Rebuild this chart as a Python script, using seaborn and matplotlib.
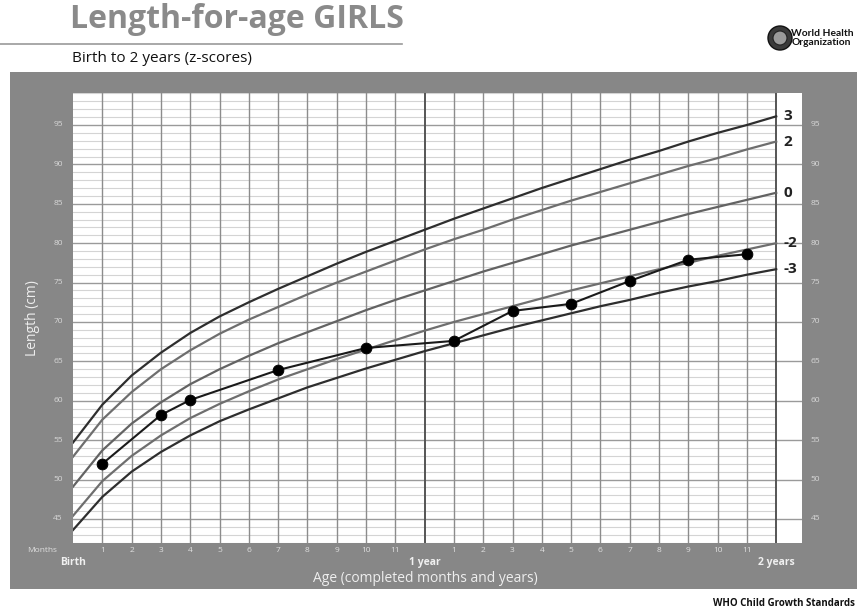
import matplotlib
matplotlib.use("Agg")
import matplotlib.pyplot as plt
import seaborn as sns
import pandas as pd
from matplotlib.patches import Rectangle, Ellipse
from matplotlib.lines import Line2D

# ---- data ----
months = list(range(0, 25))
sd_neg3 = [43.6, 47.8, 51.0, 53.5, 55.6, 57.4, 58.9, 60.3, 61.7, 62.9, 64.1, 65.2, 66.3,
           67.3, 68.3, 69.3, 70.2, 71.1, 72.0, 72.8, 73.7, 74.5, 75.2, 76.0, 76.7]
sd_neg2 = [45.4, 49.8, 53.0, 55.6, 57.8, 59.6, 61.2, 62.7, 64.0, 65.3, 66.5, 67.7, 68.9,
           70.0, 71.0, 72.0, 73.0, 74.0, 74.9, 75.8, 76.7, 77.5, 78.4, 79.2, 80.0]
sd_0 = [49.1, 53.7, 57.1, 59.8, 62.1, 64.0, 65.7, 67.3, 68.7, 70.1, 71.5, 72.8, 74.0,
        75.2, 76.4, 77.5, 78.6, 79.7, 80.7, 81.7, 82.7, 83.7, 84.6, 85.5, 86.4]
sd_pos2 = [52.9, 57.6, 61.1, 64.0, 66.4, 68.5, 70.3, 71.9, 73.5, 75.0, 76.4, 77.8, 79.2,
           80.5, 81.7, 83.0, 84.2, 85.4, 86.5, 87.6, 88.7, 89.8, 90.8, 91.9, 92.9]
sd_pos3 = [54.7, 59.5, 63.2, 66.1, 68.6, 70.7, 72.5, 74.2, 75.8, 77.4, 78.9, 80.3, 81.7,
           83.1, 84.4, 85.7, 87.0, 88.2, 89.4, 90.6, 91.7, 92.9, 94.0, 95.0, 96.1]
z_labels = ["3", "2", "0", "-2", "-3"]

child_age = [1, 3, 4, 7, 10, 13, 15, 17, 19, 21, 23]
child_len = [52.0, 58.2, 60.1, 63.9, 66.7, 67.6, 71.4, 72.3, 75.2, 77.9, 78.6]

month_ticks = [1, 2, 3, 4, 5, 6, 7, 8, 9, 10, 11, 13, 14, 15, 16, 17, 18, 19, 20, 21, 22, 23]
month_tick_labels = ["1", "2", "3", "4", "5", "6", "7", "8", "9", "10", "11",
                     "1", "2", "3", "4", "5", "6", "7", "8", "9", "10", "11"]
y_ticks = [45, 50, 55, 60, 65, 70, 75, 80, 85, 90, 95]

# ---- build tables ----
series = dict(zip(z_labels, [sd_pos3, sd_pos2, sd_0, sd_neg2, sd_neg3]))
rows = []
for z, vals in series.items():
    for m, v in zip(months, vals):
        rows.append({"month": m, "length": v, "z": z})
curves = pd.DataFrame(rows)
child = pd.DataFrame({"month": child_age, "length": child_len})

W, H = 857, 612
fig = plt.figure(figsize=(W / 100, H / 100), dpi=100)
fig.patch.set_facecolor("white")

FONT = ["Open Sans", "DejaVu Sans"]
LOGO_FONT = ["Lato", "DejaVu Sans"]
GREY_BG = "#878787"

# grey frame
fig.add_artist(Rectangle((10 / W, 1 - 589 / H), 1 - 10 / W, (589 - 72) / H,
                         transform=fig.transFigure, facecolor=GREY_BG, edgecolor="none", zorder=0))

ax = fig.add_axes([73 / W, 1 - 543 / H, (802 - 73) / W, (543 - 93) / H])
ax.set_facecolor("white")
xmax, ymin, ymax = 24.88, 41.95, 99.06
ax.set_xlim(0, xmax)
ax.set_ylim(ymin, ymax)

# grid
for y in range(42, 100):
    if y % 5 == 0:
        ax.plot([0, xmax], [y, y], color="#9a9a9a", lw=1.0, zorder=1)
    else:
        ax.plot([0, 24], [y, y], color="#d4d4d4", lw=0.8, zorder=1)
for m in range(1, 24):
    if m == 12:
        continue
    ax.axvline(m, color="#8c8c8c", lw=1.0, zorder=1.5)
ax.axvline(12, color="#555555", lw=1.4, zorder=1.5)
ax.axvline(24, color="#555555", lw=1.4, zorder=1.5)

palette = {"3": "#2e2e2e", "2": "#6e6e6e", "0": "#636363", "-2": "#6e6e6e", "-3": "#2e2e2e"}
sns.lineplot(data=curves, x="month", y="length", hue="z", palette=palette,
             linewidth=1.6, legend=False, ax=ax, zorder=3, sort=True)
sns.lineplot(data=child, x="month", y="length", color="#1a1a1a", linewidth=1.5,
             legend=False, ax=ax, zorder=4)
sns.scatterplot(data=child, x="month", y="length", color="black", s=60,
                edgecolor="black", legend=False, ax=ax, zorder=5)

# z labels
for z, vals in series.items():
    ax.text(24.25, vals[-1], z, fontsize=11, fontweight="bold", family=FONT,
            color="#222222", va="center", ha="left", zorder=6)

for s in ax.spines.values():
    s.set_visible(False)
ax.set_xticks([])
ax.set_yticks([])
ax.set_xlabel("")
ax.set_ylabel("")

# y tick labels both sides
for y in y_ticks:
    ax.text(-0.35, y, str(y), transform=ax.transData, ha="right", va="center",
            fontsize=6, color="#d8d8d8", family=FONT, clip_on=False)
    ax.text(xmax + 0.3, y, str(y), transform=ax.transData, ha="left", va="center",
            fontsize=6, color="#d8d8d8", family=FONT, clip_on=False)

# month tick labels
for m, lab in zip(month_ticks, month_tick_labels):
    ax.text(m, ymin - 0.55, lab, ha="center", va="top", fontsize=6,
            color="#e0e0e0", family=FONT, clip_on=False)
ax.text(-0.55, ymin - 0.55, "Months", ha="right", va="top", fontsize=6,
        color="#e0e0e0", family=FONT, clip_on=False)
ax.text(0, ymin - 1.75, "Birth", ha="center", va="top", fontsize=7.5,
        fontweight="bold", color="#f0f0f0", family=FONT, clip_on=False)
ax.text(12, ymin - 1.75, "1 year", ha="center", va="top", fontsize=7.5,
        fontweight="bold", color="#f0f0f0", family=FONT, clip_on=False)
ax.text(24, ymin - 1.75, "2 years", ha="center", va="top", fontsize=7.5,
        fontweight="bold", color="#f0f0f0", family=FONT, clip_on=False)

fig.text(425 / W, 1 - 578 / H, "Age (completed months and years)", ha="center",
         va="center", fontsize=10, color="#eeeeee", family=FONT)
fig.text(33 / W, 1 - 318 / H, "Length (cm)", ha="center", va="center", rotation=90,
         fontsize=10, color="#eeeeee", family=FONT)

# header
fig.text(70 / W, 1 - 20 / H, "Length-for-age GIRLS", ha="left", va="center",
         fontsize=23, fontweight="bold", color="#8a8a8a", family=FONT)
fig.add_artist(Line2D([0, 402 / W], [1 - 44 / H, 1 - 44 / H], transform=fig.transFigure,
                      color="#9a9a9a", lw=1.2))
fig.text(72 / W, 1 - 59 / H, "Birth to 2 years (z-scores)", ha="left", va="center",
         fontsize=11, color="#111111", family=FONT)

# WHO logo approximation
fig.add_artist(Ellipse((780 / W, 1 - 38 / H), 24 / W, 24 / H, transform=fig.transFigure,
                       facecolor="#3a3a3a", edgecolor="#111111", lw=1))
fig.add_artist(Ellipse((780 / W, 1 - 38 / H), 14 / W, 14 / H, transform=fig.transFigure,
                       facecolor="#9a9a9a", edgecolor="#222222", lw=0.8))
fig.text(854 / W, 1 - 38 / H, "World Health\nOrganization", ha="right", va="center",
         fontsize=7.4, fontweight="bold", color="#111111", family=LOGO_FONT,
         linespacing=0.95, multialignment="left")

fig.text(855 / W, 1 - 603 / H, "WHO Child Growth Standards", ha="right", va="center",
         fontsize=7, fontweight="bold", color="#111111", family=FONT)

fig.savefig("out.png", dpi=100, facecolor="white")
